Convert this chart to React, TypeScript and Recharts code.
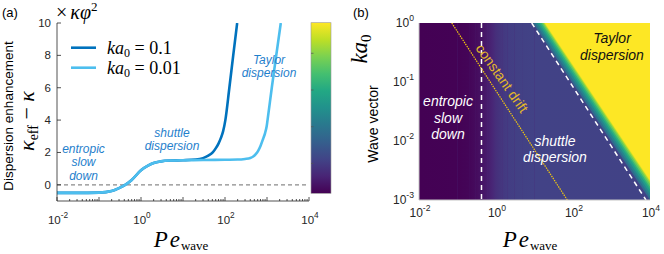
import React from 'react';
import { LineChart, ComposedChart, Line, Area, XAxis, YAxis, ReferenceLine } from 'recharts';

// ---------------- data ----------------
// panel (a): dispersion enhancement vs Pe_wave
const peA = [0.01, 0.03, 0.1, 0.2, 0.3, 0.42, 0.6, 1, 1.5, 2, 3, 5, 10, 20, 30, 40, 51, 60, 70, 80, 90, 102, 127, 157, 195];
const kappaA = [-0.5, -0.5, -0.48, -0.38, -0.2, 0, 0.3, 0.9, 1.2, 1.35, 1.45, 1.5, 1.52, 1.56, 1.65, 1.8, 2.0, 2.25, 2.55, 2.9, 3.3, 4, 6, 8, 10];
const peB = [0.01, 0.03, 0.1, 0.2, 0.3, 0.42, 0.6, 1, 1.5, 2, 3, 5, 10, 30, 100, 200, 300, 400, 470, 540, 615, 700, 810, 900, 980, 1030, 1300, 1660, 2130];
const kappaB = [-0.5, -0.5, -0.48, -0.38, -0.2, 0, 0.3, 0.9, 1.2, 1.35, 1.45, 1.5, 1.52, 1.53, 1.55, 1.56, 1.6, 1.66, 1.75, 1.9, 2.1, 2.4, 2.85, 3.2, 3.6, 4, 6, 8, 10];
const legendLabels = ['0.1', '0.01'];

// ticks
const xTickLabels = [0.01, 1, 100, 10000];
const xDecades = [0.01, 0.1, 1, 10, 100, 1000, 10000];
const minorMultipliers = [2, 3, 4, 5, 6, 7, 8, 9];
const yTicksA = [0, 2, 4, 6, 8, 10];
const yTicksB = [0.001, 0.01, 0.1, 1];

// panel (b): heat map
const bgPe = [0.01, 0.1, 0.2, 0.3, 0.42, 0.6, 0.8, 1, 1.5, 2, 3, 5, 10, 10000];
const bgKappa = [-0.5, -0.48, -0.38, -0.2, 0, 0.3, 0.62, 0.9, 1.2, 1.35, 1.45, 1.5, 1.52, 1.55];
const bandKappa = [3.2, 4.2, 5.3, 6.3, 7.4, 8.4, 9.5, 10];
const bandTopPe = [9.1, 10.5, 12.0, 13.5, 15.1, 16.6, 17.8, 18.6];      // at ka0 = 1
const bandBottomPe = [10000, 11500, 13200, 15100, 17000, 19000, 20900, 22100]; // at ka0 = 1e-3
const kaEnds = [1, 0.001];
const driftPe = [0.071, 71];
const taylorLinePe = [8.45, 7870];
const entropicLinePe = 0.42;

// ---------------- helpers ----------------
const AX = '#262626';
const DARK = '#0072BD';
const LIGHT = '#4DBEEE';
const NOTE = '#1f80cc';
const SANS = "'Liberation Sans', Arial, Helvetica, sans-serif";
const SERIF = "'Liberation Serif', 'Times New Roman', serif";
const VIRIDIS = ['#440154', '#482475', '#414487', '#355f8d', '#2a788e', '#21918c', '#22a884', '#44bf70', '#7ad151', '#bddf26', '#fde725'];
const K_MIN = -0.5;
const K_MAX = 10;

const hex = (c: string) => [1, 3, 5].map((i) => parseInt(c.slice(i, i + 2), 16));
function viridis(t: number) {
  const tt = Math.max(0, Math.min(1, t));
  const p = tt * 10;
  const i = Math.min(9, Math.floor(p));
  const f = p - i;
  const a = hex(VIRIDIS[i]);
  const b = hex(VIRIDIS[i + 1]);
  const c = a.map((v, k) => Math.round(v + (b[k] - v) * f));
  return `rgb(${c[0]},${c[1]},${c[2]})`;
}
const kColor = (k: number) => viridis((k - K_MIN) / (K_MAX - K_MIN));

const seriesA = peA.map((x, i) => ({ x, y: kappaA[i] }));
const seriesB = peB.map((x, i) => ({ x, y: kappaB[i] }));
const xTicksAll = xDecades.flatMap((d, i) => (i < xDecades.length - 1 ? [d, ...minorMultipliers.map((m) => m * d)] : [d]));
const isDecade = (v: number) => Math.abs(Math.log10(v) - Math.round(Math.log10(v))) < 1e-6;
const isLabel = (v: number) => xTickLabels.some((t) => Math.abs(t - v) / t < 1e-6);
const expOf = (v: number) => String(Math.round(Math.log10(v)));

const bgColumns = bgPe.slice(0, -1).map((p, i) => ({
  id: `bgcol${i}`,
  data: [{ x: p, y: kaEnds[1] }, { x: bgPe[i + 1], y: kaEnds[1] }],
  c0: kColor(bgKappa[i]),
  c1: kColor(bgKappa[i + 1]),
}));
const bands = bandKappa.map((k, i) => ({
  color: kColor(k),
  data: [{ x: bandTopPe[i], y: kaEnds[0] }, { x: bandBottomPe[i], y: kaEnds[1] }],
}));
const driftLine = driftPe.map((x, i) => ({ x, y: kaEnds[i] }));
const taylorLine = taylorLinePe.map((x, i) => ({ x, y: kaEnds[i] }));
const entropicLine = kaEnds.map((y) => ({ x: entropicLinePe, y }));
const underlay = [{ x: 0.01, y: 0.001 }, { x: 10000, y: 0.001 }];

// ---------------- ticks ----------------
const Pow10 = ({ x, y, v, anchor, size }: any) => (
  <text x={x} y={y} textAnchor={anchor} fontFamily={SANS} fontSize={size} fill={AX}>
    10<tspan dy={-6} fontSize={size * 0.72}>{expOf(v)}</tspan>
  </text>
);

const BottomTickA = (props: any) => {
  const { x, y, payload } = props;
  const v = payload.value;
  const len = isDecade(v) ? 4 : 2;
  return (
    <g>
      <line x1={x} x2={x} y1={y} y2={y - len} stroke={AX} strokeWidth={0.8} />
      {isLabel(v) && <Pow10 x={x + 1} y={y + 22.5} v={v} anchor="middle" size={11.5} />}
    </g>
  );
};
const TopTickA = (props: any) => {
  const { x, y, payload } = props;
  const len = isDecade(payload.value) ? 4 : 2;
  return <line x1={x} x2={x} y1={y} y2={y + len} stroke={AX} strokeWidth={0.8} />;
};
const LeftTickA = (props: any) => {
  const { x, y, payload } = props;
  return (
    <g>
      <line x1={x} x2={x + 4} y1={y} y2={y} stroke={AX} strokeWidth={0.8} />
      <text x={x - 6} y={y + 4} textAnchor="end" fontFamily={SANS} fontSize={11.5} fill={AX}>{payload.value}</text>
    </g>
  );
};
const RightTickA = (props: any) => {
  const { x, y } = props;
  return <line x1={x} x2={x - 4} y1={y} y2={y} stroke={AX} strokeWidth={0.8} />;
};
const BottomTickB = (props: any) => {
  const { x, y, payload } = props;
  return <Pow10 x={x + 1} y={y + 17} v={payload.value} anchor="middle" size={12} />;
};
const LeftTickB = (props: any) => {
  const { x, y, payload } = props;
  return <Pow10 x={x - 5} y={y + 4} v={payload.value} anchor="end" size={12} />;
};

// ---------------- component ----------------
export default function App() {
  return (
    <div style={{ position: 'absolute', left: 0, top: 0, width: 664, height: 254, background: '#fff', overflow: 'hidden' }}>
      <div style={{ position: 'absolute', left: 0, top: 0 }}>
        <LineChart width={320} height={254} margin={{ top: 23, right: 11, bottom: 23, left: 17 }}>
          <XAxis xAxisId="b" dataKey="x" type="number" scale="log" domain={[0.01, 10000]} allowDataOverflow ticks={xTicksAll}
            interval={0} tickSize={0} tickMargin={0} tickLine={false} height={30} axisLine={{ stroke: AX, strokeWidth: 0.8 }} tick={<BottomTickA />} />
          <XAxis xAxisId="t" orientation="top" dataKey="x" type="number" scale="log" domain={[0.01, 10000]} allowDataOverflow ticks={xTicksAll}
            interval={0} tickSize={0} tickMargin={0} tickLine={false} height={0} axisLine={{ stroke: AX, strokeWidth: 0.8 }} tick={<TopTickA />} />
          <YAxis yAxisId="l" type="number" domain={[-1, 10]} allowDataOverflow ticks={yTicksA} interval={0} tickSize={0} tickMargin={0}
            tickLine={false} width={40} axisLine={{ stroke: AX, strokeWidth: 0.8 }} tick={<LeftTickA />} />
          <YAxis yAxisId="r" orientation="right" type="number" domain={[-1, 10]} allowDataOverflow ticks={yTicksA} interval={0} tickSize={0}
            tickMargin={0} tickLine={false} width={0} axisLine={{ stroke: AX, strokeWidth: 0.8 }} tick={<RightTickA />} />
          <ReferenceLine xAxisId="b" yAxisId="l" y={0} stroke="#8a8a8a" strokeWidth={1.2} strokeDasharray="4 3" />
          <Line xAxisId="b" yAxisId="l" data={seriesA} dataKey="y" type="monotone" stroke={DARK} strokeWidth={2.6} dot={false} activeDot={false} isAnimationActive={false} />
          <Line xAxisId="b" yAxisId="l" data={seriesB} dataKey="y" type="monotone" stroke={LIGHT} strokeWidth={2.6} dot={false} activeDot={false} isAnimationActive={false} />
        </LineChart>
      </div>

      <div style={{ position: 'absolute', left: 330, top: 0 }}>
        <ComposedChart width={334} height={254} margin={{ top: 23, right: 14, bottom: 24, left: 29 }}>
          <defs>
            {bgColumns.map((c) => (
              <linearGradient key={c.id} id={c.id} x1="0" y1="0" x2="1" y2="0">
                <stop offset="0" stopColor={c.c0} />
                <stop offset="1" stopColor={c.c1} />
              </linearGradient>
            ))}
          </defs>
          <XAxis dataKey="x" type="number" scale="log" domain={[0.01, 10000]} allowDataOverflow ticks={xTickLabels} interval={0}
            tickSize={0} tickMargin={0} tickLine={false} height={30} axisLine={{ stroke: '#c4c4c4', strokeWidth: 1 }} tick={<BottomTickB />} />
          <YAxis type="number" scale="log" domain={[0.001, 1]} allowDataOverflow ticks={yTicksB} interval={0} tickSize={0} tickMargin={0}
            tickLine={false} width={60} axisLine={{ stroke: '#c4c4c4', strokeWidth: 1 }} tick={<LeftTickB />} />
          <Area data={underlay} dataKey="y" type="linear" baseValue={1} stroke="none" fill={kColor(0.6)} fillOpacity={1} dot={false} activeDot={false} isAnimationActive={false} />
          {bgColumns.map((c) => (
            <Area key={c.id} data={c.data} dataKey="y" type="linear" baseValue={1} stroke="none" fill={`url(#${c.id})`} fillOpacity={1}
              dot={false} activeDot={false} isAnimationActive={false} />
          ))}
          {bands.map((b, i) => (
            <Area key={`band${i}`} data={b.data} dataKey="y" type="linear" baseValue={1} stroke="none" fill={b.color} fillOpacity={1}
              dot={false} activeDot={false} isAnimationActive={false} />
          ))}
          <Line data={entropicLine} dataKey="y" type="linear" stroke="#ffffff" strokeWidth={1.5} strokeDasharray="5 4" dot={false} activeDot={false} isAnimationActive={false} />
          <Line data={taylorLine} dataKey="y" type="linear" stroke="#ffffff" strokeWidth={1.5} strokeDasharray="5 4" dot={false} activeDot={false} isAnimationActive={false} />
          <Line data={driftLine} dataKey="y" type="linear" stroke="#f2c80f" strokeWidth={1.2} strokeDasharray="1.5 1" dot={false} activeDot={false} isAnimationActive={false} />
        </ComposedChart>
      </div>

      <svg width={664} height={254} style={{ position: 'absolute', left: 0, top: 0, pointerEvents: 'none' }}>
        <defs>
          <linearGradient id="cbar" x1="0" y1="1" x2="0" y2="0">
            {VIRIDIS.map((c, i) => (
              <stop key={i} offset={i / (VIRIDIS.length - 1)} stopColor={c} />
            ))}
          </linearGradient>
        </defs>
        {/* colour bar */}
        <rect x={311} y={22.7} width={20} height={170.6} fill="url(#cbar)" stroke="#9a9a9a" strokeWidth={0.6} />
        {[53.3, 90, 126.7, 163.4].map((ty) => (
          <line key={ty} x1={311} x2={313.5} y1={ty} y2={ty} stroke="#555" strokeWidth={0.7} />
        ))}

        {/* panel (a) labels */}
        <text x={2} y={17} fontFamily={SANS} fontSize={13} fill="#000">(a)</text>
        <text x={56} y={19} fontFamily={SERIF} fontSize={20} fill="#000">
          ×<tspan dx={3} fontStyle="italic">κφ</tspan><tspan dy={-8} fontSize={13}>2</tspan>
        </text>
        <text transform="translate(13,116) rotate(-90)" textAnchor="middle" fontFamily={SANS} fontSize={13.5} fill="#000">Dispersion enhancement</text>
        <text transform="translate(34,121) rotate(-90)" textAnchor="middle" fontFamily={SERIF} fontSize={22} fontStyle="italic" fill="#000">
          κ<tspan fontSize={14} fontStyle="normal" dy={4}>eff</tspan><tspan fontStyle="normal" dy={-4}> − </tspan><tspan>κ</tspan>
        </text>
        <text x={181} y={247} textAnchor="middle" fontFamily={SERIF} fontSize={23} fontStyle="italic" fill="#000">
          P<tspan dx={2}>e</tspan><tspan fontSize={13} fontStyle="normal" dy={3} dx={1}>wave</tspan>
        </text>

        {/* legend */}
        <line x1={71} x2={96} y1={47.7} y2={47.7} stroke={DARK} strokeWidth={2.6} />
        <line x1={71} x2={96} y1={67.7} y2={67.7} stroke={LIGHT} strokeWidth={2.6} />
        {legendLabels.map((lab, i) => (
          <text key={lab} x={107} y={53.5 + i * 20} fontFamily={SERIF} fontSize={18} fill="#000">
            <tspan fontStyle="italic">ka</tspan><tspan fontSize={12} dy={3}>0</tspan><tspan dy={-3}> = {lab}</tspan>
          </text>
        ))}

        {/* panel (a) notes */}
        <g fontFamily={SANS} fontSize={12} fontStyle="italic" fill={NOTE} textAnchor="middle">
          <text x={83.5} y={153}>entropic</text>
          <text x={83.5} y={166.3}>slow</text>
          <text x={83.5} y={179.7}>down</text>
          <text x={172} y={137}>shuttle</text>
          <text x={172} y={150.3}>dispersion</text>
          <text x={269} y={64}>Taylor</text>
          <text x={269} y={76.7}>dispersion</text>
        </g>

        {/* panel (b) labels */}
        <text x={353} y={17} fontFamily={SANS} fontSize={13} fill="#000">(b)</text>
        <text transform="translate(378,124) rotate(-90)" textAnchor="middle" fontFamily={SANS} fontSize={14} fill="#000">Wave vector</text>
        <text transform="translate(367,49) rotate(-90)" textAnchor="middle" fontFamily={SERIF} fontSize={23} fill="#000">
          <tspan fontStyle="italic">ka</tspan><tspan fontSize={15} dy={4}>0</tspan>
        </text>
        <text x={530} y={247} textAnchor="middle" fontFamily={SERIF} fontSize={23} fontStyle="italic" fill="#000">
          P<tspan dx={2}>e</tspan><tspan fontSize={13} fontStyle="normal" dy={3} dx={1}>wave</tspan>
        </text>

        {/* panel (b) notes */}
        <g fontFamily={SANS} fontSize={14} fontStyle="italic" textAnchor="middle">
          <text x={448} y={106} fill="#fff">entropic</text>
          <text x={448} y={122.5} fill="#fff">slow</text>
          <text x={448} y={139} fill="#fff">down</text>
          <text x={555} y={146.3} fill="#fff">shuttle</text>
          <text x={555} y={162} fill="#fff">dispersion</text>
          <text x={612} y={43.3} fill="#111">Taylor</text>
          <text x={612} y={60} fill="#111">dispersion</text>
        </g>
        <text transform="translate(498,81) rotate(55)" textAnchor="middle" fontFamily={SANS} fontSize={14} fill="#e2b82a">constant drift</text>
      </svg>
    </div>
  );
}
